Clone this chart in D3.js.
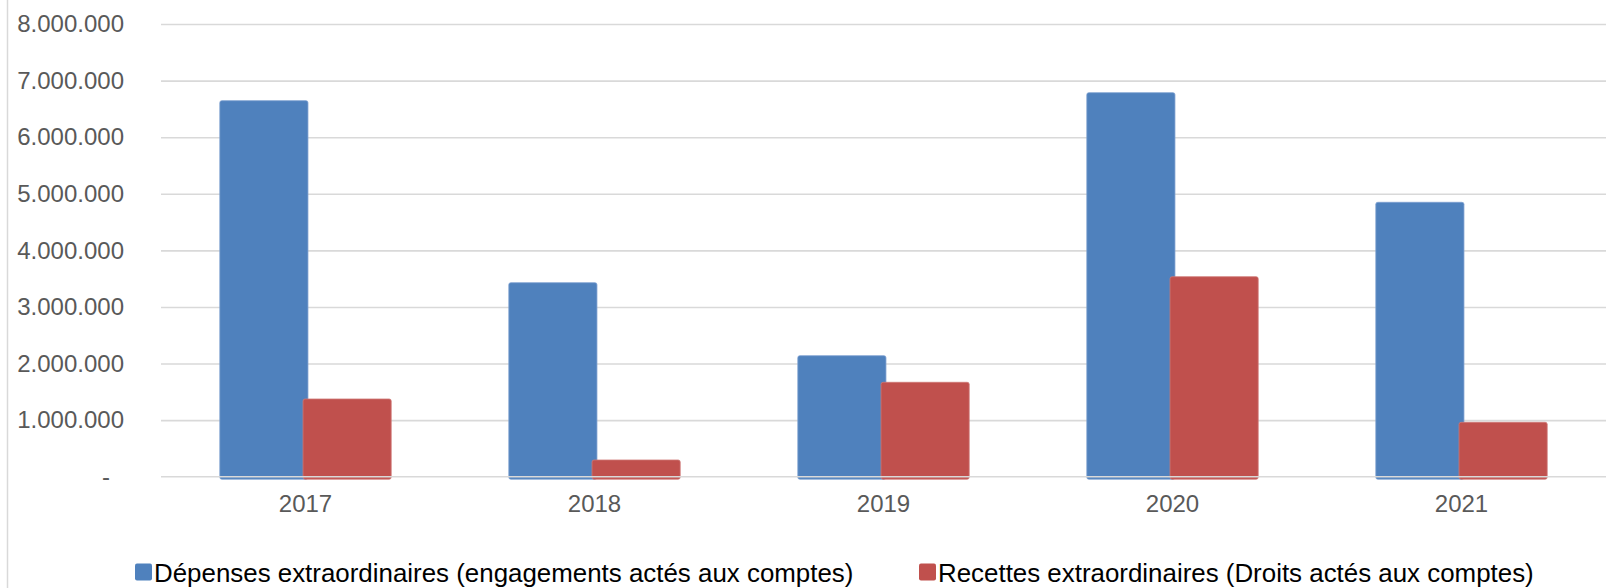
<!DOCTYPE html>
<html>
<head>
<meta charset="utf-8">
<script src="https://cdn.jsdelivr.net/npm/d3@7"></script>
<style>
  html, body { margin: 0; padding: 0; background: #fff; }
  svg { display: block; font-family: "Liberation Sans", Arial, sans-serif; }
</style>
</head>
<body>
<svg id="chart" width="1614" height="588"></svg>
<script>
const years = ["2017", "2018", "2019", "2020", "2021"];
const depenses = [6645000, 3428000, 2138000, 6786000, 4849000];
const recettes = [1373000, 295000, 1668000, 3534000, 961000];
const yTicks = [0, 1000000, 2000000, 3000000, 4000000, 5000000, 6000000, 7000000, 8000000];
const seriesNames = ["Dépenses extraordinaires (engagements actés aux comptes)", "Recettes extraordinaires (Droits actés aux comptes)"];
const seriesColors = ["#4F81BD", "#C0504D"];
const seriesStrokes = ["#7C9FD0", "#CE7775"];

const svg = d3.select("#chart");
const W = 1614, H = 588;
const plotLeft = 161, plotRight = 1606, plotTop = 24, plotBottom = 476.7;

const x = d3.scaleBand().domain(years).range([plotLeft, plotRight]).paddingInner(0).paddingOuter(0);
const y = d3.scaleLinear().domain([0, 8000000]).range([plotBottom, plotTop]);

const loc = d3.formatLocale({decimal: ",", thousands: ".", grouping: [3], currency: ["", "€"]});
const fmt = loc.format(",d");

// left frame line
svg.append("line").attr("x1", 7.5).attr("x2", 7.5).attr("y1", 0).attr("y2", H)
  .attr("stroke", "#d9d9d9").attr("stroke-width", 1.5);

// gridlines
const grid = svg.append("g").attr("transform", `translate(${plotLeft},0)`)
  .call(d3.axisLeft(y).tickValues(yTicks.filter(d => d > 0)).tickSize(-(plotRight - plotLeft)).tickFormat(""));
grid.select(".domain").remove();
grid.selectAll("line").attr("stroke", "#d9d9d9").attr("stroke-width", 1.6);

// y axis labels
const yAxis = svg.append("g").attr("transform", `translate(124,0)`)
  .call(d3.axisLeft(y).tickValues(yTicks).tickSize(0).tickPadding(0).tickFormat(d => d === 0 ? "-" : fmt(d)));
yAxis.select(".domain").remove();
yAxis.selectAll("text").attr("font-size", 24).attr("fill", "#595959")
  .attr("font-family", "'Liberation Sans', Arial, sans-serif")
  .attr("x", d => d === 0 ? -14 : 0);

// bars
const step = x.step();
const barW = step * 0.305;
const overlap = step * 0.017;
const data = years.map((yr, i) => ({yr, vals: [depenses[i], recettes[i]]}));
const bars = svg.append("g");
data.forEach(d => {
  const c = x(d.yr) + step / 2;
  d.vals.forEach((v, s) => {
    const bx = s === 0 ? c - barW + overlap / 2 : c - overlap / 2;
    bars.append("rect")
      .attr("x", bx).attr("width", barW)
      .attr("y", y(v)).attr("height", y(0) - y(v) + 2.5)
      .attr("rx", 2).attr("ry", 2)
      .attr("fill", seriesColors[s])
      .attr("stroke", seriesStrokes[s]).attr("stroke-width", 0.8);
  });
});

// zero axis line on top
svg.append("line").attr("x1", plotLeft).attr("x2", plotRight)
  .attr("y1", y(0)).attr("y2", y(0)).attr("stroke", "#d9d9d9").attr("stroke-width", 1.6);

// x axis labels
const xAxis = svg.append("g").attr("transform", `translate(0,${plotBottom})`)
  .call(d3.axisBottom(x).tickSize(0).tickPadding(18));
xAxis.select(".domain").remove();
xAxis.selectAll("text").attr("font-size", 24).attr("fill", "#595959")
  .attr("font-family", "'Liberation Sans', Arial, sans-serif");

// legend
const legendX = [135, 919];
const leg = svg.append("g");
seriesNames.forEach((name, i) => {
  leg.append("rect").attr("x", legendX[i]).attr("y", 563.5).attr("width", 17).attr("height", 17)
    .attr("rx", 2).attr("fill", seriesColors[i]);
  leg.append("text").attr("x", legendX[i] + 19).attr("y", 582)
    .attr("font-size", 25.9).attr("fill", "#000").text(name);
});
</script>
</body>
</html>
